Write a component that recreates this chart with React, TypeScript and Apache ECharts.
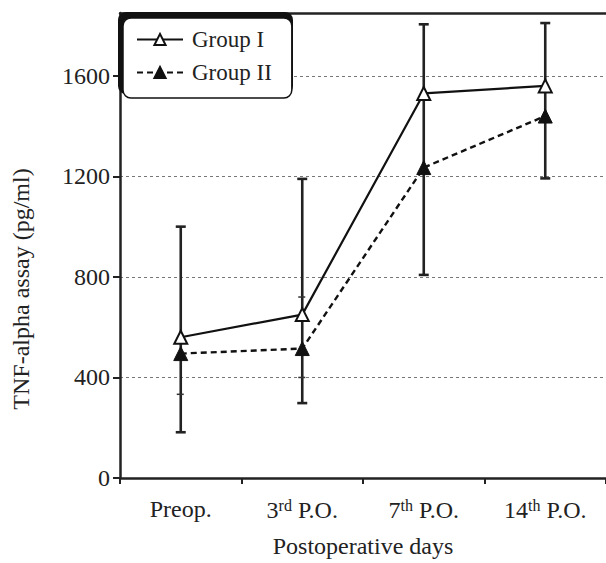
import React, { useEffect, useRef } from "react";
import * as echarts from "echarts";

const categories = ["Preop.", "3{sup|rd} P.O.", "7{sup|th} P.O.", "14{sup|th} P.O."];
const groupI = [560, 650, 1530, 1560];
const groupII = [495, 515, 1235, 1440];
// error bar ends
const groupIHigh = [1000, 1190, 1805, 1810];
const groupILow = [333, 400, 1530, 1560];
const groupIIHigh = [495, 720, 1235, 1440];
const groupIILow = [182, 298, 808, 1192];
const yTicks = [0, 400, 800, 1200, 1600];

const FONT = "Liberation Serif";
const FS = 24;

export default function App() {
  const ref = useRef<HTMLDivElement>(null);
  useEffect(() => {
    document.body.style.margin = "0";
    const chart = echarts.init(ref.current!, null, { renderer: "svg" });

    const errData: number[][] = [];
    categories.forEach((_, i) => {
      errData.push([i, groupIHigh[i], groupILow[i], groupIIHigh[i], groupIILow[i]]);
    });

    const renderErr = (params: any, api: any) => {
      const i = api.value(0);
      const gIH = api.coord([i, api.value(1)]);
      const gIL = api.coord([i, api.value(2)]);
      const gIIH = api.coord([i, api.value(3)]);
      const gIIL = api.coord([i, api.value(4)]);
      const x = gIH[0];
      const top = Math.min(gIH[1], gIL[1], gIIH[1], gIIL[1]);
      const bot = Math.max(gIH[1], gIL[1], gIIH[1], gIIL[1]);
      const style = { stroke: "#222", lineWidth: 2.6 };
      const children: any[] = [
        { type: "line", shape: { x1: x, y1: top, x2: x, y2: bot }, style },
        { type: "line", shape: { x1: x - 5, y1: gIH[1], x2: x + 5, y2: gIH[1] }, style },
        { type: "line", shape: { x1: x - 5, y1: gIIL[1], x2: x + 5, y2: gIIL[1] }, style },
      ];
      if (api.value(2) < groupI[i]) {
        children.push({ type: "line", shape: { x1: x - 4, y1: gIL[1], x2: x + 3, y2: gIL[1] }, style: { stroke: "#333", lineWidth: 1.5 } });
      }
      if (api.value(3) > groupII[i]) {
        children.push({ type: "line", shape: { x1: x - 4, y1: gIIH[1], x2: x + 3, y2: gIIH[1] }, style: { stroke: "#333", lineWidth: 1.5 } });
      }
      return { type: "group", children };
    };

    chart.setOption({
      animation: false,
      textStyle: { fontFamily: FONT },
      grid: { left: 120, right: -4, top: 13, bottom: 82 },
      graphic: [
        {
          type: "rect",
          z: 1,
          shape: { x: 118, y: 12, width: 175, height: 82, r: 8 },
          style: { fill: "#111" },
        },
        {
          type: "text",
          x: 21,
          y: 289,
          rotation: Math.PI / 2,
          style: {
            text: "TNF-alpha assay (pg/ml)",
            font: `${FS}px '${FONT}'`,
            fill: "#222",
            align: "center",
            verticalAlign: "middle",
          },
        },
      ],
      legend: {
        z: 10,
        left: 123,
        top: 18,
        orient: "vertical",
        data: ["Group I", "Group II"],
        backgroundColor: "#fff",
        borderColor: "#111",
        borderWidth: 1.5,
        borderRadius: 8,
        padding: [10, 20, 14, 13],
        itemWidth: 46,
        itemHeight: 14,
        itemGap: 10,
        textStyle: { fontFamily: FONT, fontSize: 23, color: "#222", padding: [0, 0, 0, 4] },
      },
      xAxis: [
        {
          type: "category",
          data: categories,
          boundaryGap: true,
          axisLine: { lineStyle: { color: "#222", width: 2.5 } },
          axisTick: { show: true, alignWithLabel: false, length: 6, lineStyle: { color: "#222", width: 2 } },
          axisLabel: {
            interval: 0,
            fontFamily: FONT,
            fontSize: FS,
            color: "#222",
            margin: 19,
            rich: {
              sup: { fontSize: 16, fontFamily: FONT, color: "#222", verticalAlign: "top", padding: [0, 0, 9, 0] },
            },
          },
          name: "Postoperative days",
          nameLocation: "middle",
          nameGap: 56,
          nameTextStyle: { fontFamily: FONT, fontSize: FS, color: "#222" },
        },
        {
          type: "category",
          position: "top",
          data: categories,
          axisLine: { lineStyle: { color: "#222", width: 2.5 } },
          axisTick: { show: false },
          axisLabel: { show: false },
        },
      ],
      yAxis: {
        type: "value",
        min: 0,
        max: 1850,
        interval: 400,
        axisLine: { show: true, lineStyle: { color: "#222", width: 2.5 } },
        axisTick: { show: true, length: 7, lineStyle: { color: "#222", width: 2 } },
        axisLabel: {
          fontFamily: FONT,
          fontSize: FS,
          color: "#222",
          margin: 10,
          showMaxLabel: false,
          formatter: (v: number) => (yTicks.indexOf(v) >= 0 ? String(v) : ""),
        },
        splitLine: { show: true, lineStyle: { color: "#777", width: 1, type: [3, 3] } },
      },
      series: [
        {
          type: "custom",
          name: "err",
          renderItem: renderErr,
          data: errData,
          encode: { x: 0, y: [1, 2, 3, 4] },
          z: 1,
          silent: true,
        },
        {
          name: "Group I",
          type: "line",
          data: groupI,
          symbol: "triangle",
          symbolSize: 13,
          z: 3,
          lineStyle: { color: "#111", width: 2.2 },
          itemStyle: { color: "#fff", borderColor: "#111", borderWidth: 2 },
        },
        {
          name: "Group II",
          type: "line",
          data: groupII,
          symbol: "triangle",
          symbolSize: 14,
          z: 3,
          lineStyle: { color: "#111", width: 2.4, type: [6, 4] },
          itemStyle: { color: "#111", borderColor: "#111", borderWidth: 1 },
        },
      ],
    });
    return () => chart.dispose();
  }, []);
  return <div ref={ref} style={{ width: 606, height: 563 }} />;
}
